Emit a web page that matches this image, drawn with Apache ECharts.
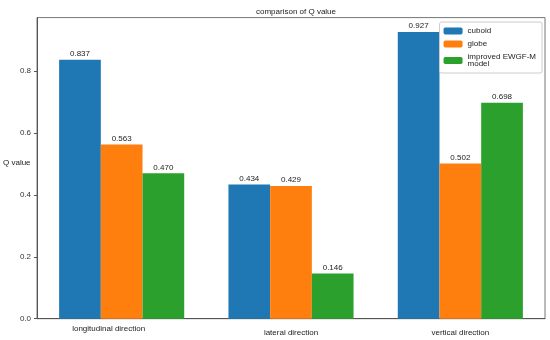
<!DOCTYPE html>
<html><head><meta charset="utf-8">
<script src="https://cdn.jsdelivr.net/npm/echarts@6/dist/echarts.min.js"></script>
<style>html,body{margin:0;padding:0;background:#fff}#c{width:550px;height:340px}</style>
</head><body><div id="c"></div>
<script>
var categories = ['longitudinal direction', 'lateral direction', 'vertical direction'];
var seriesNames = ['cuboid', 'globe', 'improved EWGF-M model'];
var cuboid = [0.837, 0.434, 0.927];
var globe = [0.563, 0.429, 0.502];
var improved = [0.470, 0.146, 0.698];
var yTicks = [0.0, 0.2, 0.4, 0.6, 0.8];
var yAxisTitle = 'Q value';

var colors = ['#1f77b4', '#ff7f0e', '#2ca02c'];
var FONT = 'Liberation Sans';
var chart = echarts.init(document.getElementById('c'), null, {renderer: 'canvas'});
var yMax = 0.927 * 1.05;
function mk(name, data, i) {
  return {
    name: name, type: 'bar', data: data, barWidth: 41.7, barGap: '0%',
    itemStyle: {color: colors[i]},
    label: {show: true, position: 'top', distance: 2, formatter: function (p) { return p.value.toFixed(3); },
      fontFamily: FONT, fontSize: 8, color: '#222'}
  };
}
chart.setOption({
  animation: false,
  title: {text: 'comparison of Q value', left: 291, textAlign: 'center', top: 3,
    textStyle: {fontFamily: FONT, fontSize: 8, fontWeight: 'normal', color: '#222'}},
  grid: {left: 37, right: 5, top: 17.6, bottom: 21.3, show: true, borderColor: '#777', borderWidth: 1,
    containLabel: false, outerBoundsMode: 'none'},
  graphic: [{type: 'text', left: 3, top: 159,
    style: {text: yAxisTitle, fontFamily: FONT, fontSize: 8, fill: '#222'}}],
  legend: {
    right: 8, top: 22, orient: 'vertical', itemWidth: 19, itemHeight: 7, itemGap: 5,
    padding: [5, 6, 5, 4], backgroundColor: '#fff', borderColor: '#ccc', borderWidth: 1, borderRadius: 2,
    data: seriesNames,
    formatter: function (n) { return n === 'improved EWGF-M model' ? 'improved EWGF-M\nmodel' : n; },
    textStyle: {fontFamily: FONT, fontSize: 8, color: '#222', lineHeight: 7, padding: [0, 0, 0, 0]}
  },
  xAxis: {
    type: 'category', data: categories,
    axisLine: {lineStyle: {color: '#555'}},
    axisTick: {alignWithLabel: true, length: 3, lineStyle: {color: '#555'}},
    axisLabel: {fontFamily: FONT, fontSize: 8, color: '#222', margin: 6,
      formatter: function (v, i) { return i === 0 ? '{a|' + v + '}' : '{b|' + v + '}'; },
      rich: {a: {fontFamily: FONT, fontSize: 8, color: '#222', padding: [0, 26, 4, 0]},
             b: {fontFamily: FONT, fontSize: 8, color: '#222', padding: [4, 0, 0, 0]}}}
  },
  yAxis: {
    type: 'value', min: 0, max: yMax, interval: 0.2,
    splitLine: {show: false},
    axisLine: {show: true, lineStyle: {color: '#555'}},
    axisTick: {show: true, length: 3, lineStyle: {color: '#555'}},
    axisLabel: {fontFamily: FONT, fontSize: 8, color: '#333', margin: 6, showMaxLabel: false,
      formatter: function (v) { return yTicks.indexOf(Math.round(v * 10) / 10) >= 0 ? v.toFixed(1) : ''; }}
  },
  series: [mk(seriesNames[0], cuboid, 0), mk(seriesNames[1], globe, 1), mk(seriesNames[2], improved, 2)]
});
</script></body></html>
